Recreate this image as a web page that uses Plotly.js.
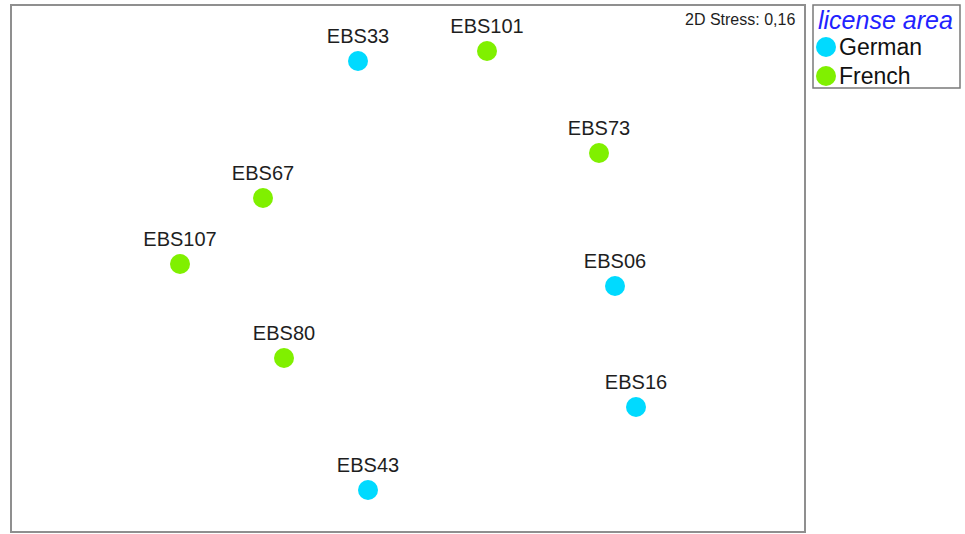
<!DOCTYPE html>
<html>
<head>
<meta charset="utf-8">
<script src="https://cdn.plot.ly/plotly-3.0.1.min.js"></script>
<style>html,body{margin:0;padding:0;background:#fff;}#chart{width:965px;height:534px;}</style>
</head>
<body>
<div id="chart"></div>
<script>
// nMDS ordination coordinates (arbitrary units)
const germanSites = ["EBS33", "EBS06", "EBS16", "EBS43"];
const germanX = [347, 604, 625, 357];
const germanY = [471, 246, 125, 42];

const frenchSites = ["EBS101", "EBS73", "EBS67", "EBS107", "EBS80"];
const frenchX = [476, 588, 252, 169, 273];
const frenchY = [481, 379, 334, 268, 174];

const legendTitle = "license area";
const groupNames = ["German", "French"];
const groupColors = ["#00DAFF", "#80F000"];
const stressText = "2D Stress: 0,16";

const FONT = "Liberation Sans, Arial, sans-serif";

function trace(name, xs, ys, labels, color) {
  return {
    type: "scatter", mode: "markers+text", name: name,
    x: xs, y: ys, text: labels, textposition: "top center",
    textfont: {family: FONT, size: 20, color: "#1e1e1e"},
    marker: {size: 20, color: color, line: {width: 0}},
    showlegend: false, cliponaxis: false, hoverinfo: "text"
  };
}

const data = [
  trace(groupNames[0], germanX, germanY, germanSites, groupColors[0]),
  trace(groupNames[1], frenchX, frenchY, frenchSites, groupColors[1])
];

// legend drawn in paper coordinates
const pw = 794; // plot width in px
function px(p) { return (p - 11) / pw; }
const ph = 527;
function py(p) { return (532 - p) / ph; }

const shapes = [
  {type: "rect", xref: "paper", yref: "paper", x0: 0, x1: 1, y0: 0, y1: 1,
   line: {color: "#8f8f8f", width: 2}},
  {type: "rect", xref: "paper", yref: "paper", x0: px(813), x1: px(960), y0: py(88), y1: py(5),
   line: {color: "#7a7a7a", width: 1.5}}
];
const annotations = [
  {xref: "paper", yref: "paper", x: 1 - 8 / pw, y: py(19), xanchor: "right", yanchor: "middle",
   text: stressText, showarrow: false, font: {family: FONT, size: 16, color: "#1e1e1e"}},
  {xref: "paper", yref: "paper", x: px(816), y: py(20), xanchor: "left", yanchor: "middle",
   text: "<i>" + legendTitle + "</i>", showarrow: false, font: {family: FONT, size: 25, color: "#2222ff"}}
];
const legendRows = [47, 76];
groupNames.forEach((g, i) => {
  shapes.push({type: "circle", xref: "paper", yref: "paper", xsizemode: "pixel", ysizemode: "pixel",
    xanchor: px(826), yanchor: py(legendRows[i]), x0: -10, x1: 10, y0: -10, y1: 10,
    fillcolor: groupColors[i], line: {width: 0}});
  annotations.push({xref: "paper", yref: "paper", x: px(837), y: py(legendRows[i]), xanchor: "left", yanchor: "middle",
    text: g, showarrow: false, font: {family: FONT, size: 23, color: "#111"}});
});

const layout = {
  width: 965, height: 534,
  margin: {l: 11, r: 160, t: 5, b: 2},
  paper_bgcolor: "#fff", plot_bgcolor: "#fff",
  xaxis: {range: [0, 794], visible: false, fixedrange: true},
  yaxis: {range: [0, 527], visible: false, fixedrange: true},
  shapes: shapes, annotations: annotations,
  showlegend: false
};

Plotly.newPlot("chart", data, layout, {displayModeBar: false, staticPlot: true});
</script>
</body>
</html>
